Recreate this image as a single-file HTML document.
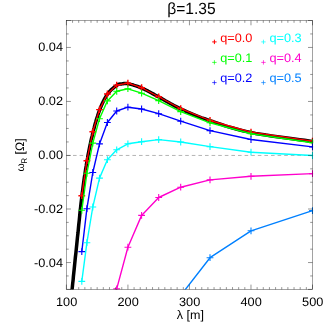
<!DOCTYPE html>
<html><head><meta charset="utf-8"><style>
html,body{margin:0;padding:0;background:#fff;}
svg{display:block;font-family:"Liberation Sans",sans-serif;font-size:12.3px;fill:#000;}
text{text-rendering:geometricPrecision;}
</style></head><body>
<svg width="332" height="332" viewBox="0 0 332 332">
<defs><clipPath id="c"><rect x="66.40" y="20.50" width="246.70" height="268.90"/></clipPath>
<filter id="f" x="0" y="0" width="100%" height="100%" filterUnits="userSpaceOnUse"><feOffset dx="0" dy="0"/></filter></defs>
<rect width="332" height="332" fill="#fff"/>
<line x1="66.40" x2="312.50" y1="155.44" y2="155.44" stroke="#999" stroke-width="0.75" stroke-dasharray="3.6,3.0" stroke-dashoffset="0"/>
<g clip-path="url(#c)">
<path d="M70.0,310.0 L70.1,309.1 L70.2,308.0 L70.3,306.9 L70.5,305.5 L70.6,304.1 L70.8,302.5 L70.9,300.7 L71.1,298.8 L71.3,296.7 L71.6,294.4 L71.8,292.0 L72.1,289.4 L72.4,286.5 L72.7,283.4 L73.1,280.1 L73.4,276.5 L73.8,272.8 L74.2,269.0 L74.6,265.0 L75.0,261.0 L75.4,257.0 L75.9,252.9 L76.3,248.9 L76.7,245.0 L77.1,241.0 L77.5,236.9 L78.0,232.8 L78.4,228.5 L78.8,224.2 L79.3,219.9 L79.7,215.7 L80.1,211.5 L80.6,207.4 L81.0,203.4 L81.5,199.6 L81.9,196.0 L82.3,192.6 L82.8,189.2 L83.2,186.0 L83.6,182.9 L84.0,179.9 L84.4,177.0 L84.9,174.2 L85.3,171.4 L85.7,168.7 L86.2,166.0 L86.6,163.3 L87.1,160.6 L87.6,158.0 L88.0,155.4 L88.5,152.8 L89.0,150.3 L89.5,147.8 L90.0,145.4 L90.5,143.1 L91.0,140.7 L91.5,138.5 L92.1,136.2 L92.6,134.0 L93.1,131.9 L93.6,129.8 L94.2,127.7 L94.7,125.7 L95.2,123.7 L95.8,121.8 L96.3,119.9 L96.9,118.1 L97.5,116.3 L98.0,114.6 L98.6,112.9 L99.2,111.2 L99.8,109.6 L100.4,108.0 L101.0,106.5 L101.6,105.1 L102.3,103.6 L102.9,102.3 L103.5,101.0 L104.2,99.7 L104.9,98.4 L105.5,97.3 L106.2,96.1 L106.9,95.0 L107.6,94.0 L108.3,93.0 L109.1,92.1 L109.9,91.2 L110.7,90.3 L111.5,89.5 L112.3,88.8 L113.2,88.1 L114.0,87.4 L114.7,86.8 L115.5,86.3 L116.2,85.8 L116.8,85.3 L117.4,84.9 L117.9,84.6 L118.4,84.4 L118.9,84.2 L119.3,84.1 L119.8,84.0 L120.2,84.0 L120.6,83.9 L121.0,83.9 L121.4,83.9 L121.8,83.9 L122.3,83.8 L122.7,83.7 L123.1,83.7 L123.5,83.6 L123.9,83.5 L124.3,83.4 L124.6,83.4 L125.0,83.4 L125.5,83.4 L126.0,83.4 L126.6,83.4 L127.2,83.5 L128.0,83.7 L128.9,83.9 L129.8,84.1 L130.8,84.4 L131.8,84.6 L133.0,84.9 L134.1,85.3 L135.3,85.7 L136.6,86.1 L137.9,86.5 L139.1,87.0 L140.4,87.5 L141.7,88.0 L143.0,88.6 L144.3,89.2 L145.6,89.9 L147.0,90.5 L148.3,91.3 L149.7,92.0 L151.1,92.8 L152.6,93.6 L154.1,94.4 L155.6,95.3 L157.1,96.1 L158.8,97.0 L160.4,97.9 L162.0,98.8 L163.7,99.8 L165.4,100.8 L167.2,101.8 L169.0,102.8 L170.8,103.8 L172.7,104.8 L174.6,105.9 L176.6,106.9 L178.6,107.9 L180.7,108.9 L182.8,109.9 L185.0,110.9 L187.2,111.9 L189.5,112.8 L191.8,113.8 L194.2,114.8 L196.6,115.8 L199.1,116.8 L201.7,117.8 L204.4,118.7 L207.1,119.7 L210.0,120.7 L212.9,121.7 L215.9,122.7 L218.9,123.7 L222.0,124.7 L225.2,125.8 L228.5,126.8 L231.9,127.8 L235.4,128.8 L239.0,129.8 L242.8,130.7 L246.8,131.6 L251.0,132.5 L255.5,133.4 L260.6,134.2 L266.0,135.1 L271.6,135.9 L277.4,136.8 L283.2,137.6 L289.0,138.3 L294.5,139.0 L299.7,139.7 L304.6,140.3 L308.9,140.9 L312.5,141.4 L315.6,141.8 L318.2,142.2 L320.4,142.5 L322.2,142.7 L323.8,142.9 L325.1,143.1 L326.2,143.2 L327.1,143.3 L327.9,143.4 L328.6,143.4 L329.3,143.5 L330.0,143.6" fill="none" stroke="#000" stroke-width="3.5" stroke-linejoin="round"/>
<polyline points="81.8,195.7 86.9,160.7 92.8,131.8 99.5,109.6 107.4,94.0 116.7,85.1 127.9,83.2 141.6,87.7 158.7,96.8 180.7,108.7 210.0,120.5 251.0,132.2 312.5,141.1" fill="none" stroke="#ff0000" stroke-width="1.3" stroke-linejoin="round"/>
<path d="M78.4,195.7h6.8M81.8,192.3v6.8M83.5,160.7h6.8M86.9,157.2v6.8M89.4,131.8h6.8M92.8,128.4v6.8M96.1,109.6h6.8M99.5,106.2v6.8M104.0,94.0h6.8M107.4,90.6v6.8M113.3,85.1h6.8M116.7,81.7v6.8M124.5,83.2h6.8M127.9,79.8v6.8M138.2,87.7h6.8M141.6,84.2v6.8M155.3,96.8h6.8M158.7,93.4v6.8M177.3,108.7h6.8M180.7,105.3v6.8M206.6,120.5h6.8M210.0,117.1v6.8M247.6,132.2h6.8M251.0,128.8v6.8M309.1,141.1h6.8M312.5,137.7v6.8" fill="none" stroke="#ff0000" stroke-width="1.4"/>
<polyline points="81.8,210.3 86.9,173.3 92.8,143.1 99.5,118.7 107.4,100.9 116.7,91.3 127.9,88.8 141.6,93.2 158.7,100.6 180.7,111.6 210.0,122.8 251.0,133.7 312.5,142.7" fill="none" stroke="#00ff00" stroke-width="1.4" stroke-linejoin="round"/>
<path d="M78.4,210.3h6.8M81.8,206.9v6.8M83.5,173.3h6.8M86.9,169.9v6.8M89.4,143.1h6.8M92.8,139.7v6.8M96.1,118.7h6.8M99.5,115.3v6.8M104.0,100.9h6.8M107.4,97.5v6.8M113.3,91.3h6.8M116.7,87.9v6.8M124.5,88.8h6.8M127.9,85.3v6.8M138.2,93.2h6.8M141.6,89.8v6.8M155.3,100.6h6.8M158.7,97.2v6.8M177.3,111.6h6.8M180.7,108.2v6.8M206.6,122.8h6.8M210.0,119.4v6.8M247.6,133.7h6.8M251.0,130.2v6.8M309.1,142.7h6.8M312.5,139.3v6.8" fill="none" stroke="#00ff00" stroke-width="1.1"/>
<polyline points="81.8,251.6 86.9,208.7 92.8,172.5 99.5,143.9 107.4,122.5 116.7,111.0 127.9,107.2 141.6,109.0 158.7,113.7 180.7,121.2 210.0,130.6 251.0,139.5 312.5,146.9" fill="none" stroke="#0000ff" stroke-width="1.4" stroke-linejoin="round"/>
<path d="M78.4,251.6h6.8M81.8,248.2v6.8M83.5,208.7h6.8M86.9,205.3v6.8M89.4,172.5h6.8M92.8,169.1v6.8M96.1,143.9h6.8M99.5,140.5v6.8M104.0,122.5h6.8M107.4,119.1v6.8M113.3,111.0h6.8M116.7,107.6v6.8M124.5,107.2h6.8M127.9,103.8v6.8M138.2,109.0h6.8M141.6,105.6v6.8M155.3,113.7h6.8M158.7,110.3v6.8M177.3,121.2h6.8M180.7,117.8v6.8M206.6,130.6h6.8M210.0,127.2v6.8M247.6,139.5h6.8M251.0,136.1v6.8M309.1,146.9h6.8M312.5,143.5v6.8" fill="none" stroke="#0000ff" stroke-width="1.1"/>
<polyline points="81.8,281.4 86.9,242.7 92.8,207.0 99.5,178.1 107.4,159.7 116.7,149.8 127.9,143.8 141.6,141.7 158.7,139.6 180.7,142.0 210.0,146.6 251.0,152.2 312.5,155.5" fill="none" stroke="#00ffff" stroke-width="1.4" stroke-linejoin="round"/>
<path d="M78.4,281.4h6.8M81.8,278.0v6.8M83.5,242.7h6.8M86.9,239.3v6.8M89.4,207.0h6.8M92.8,203.6v6.8M96.1,178.1h6.8M99.5,174.7v6.8M104.0,159.7h6.8M107.4,156.3v6.8M113.3,149.8h6.8M116.7,146.4v6.8M124.5,143.8h6.8M127.9,140.4v6.8M138.2,141.7h6.8M141.6,138.3v6.8M155.3,139.6h6.8M158.7,136.2v6.8M177.3,142.0h6.8M180.7,138.6v6.8M206.6,146.6h6.8M210.0,143.2v6.8M247.6,152.2h6.8M251.0,148.8v6.8M309.1,155.5h6.8M312.5,152.1v6.8" fill="none" stroke="#00ffff" stroke-width="1.1"/>
<polyline points="107.4,345.0 116.7,288.9 127.9,247.2 141.6,215.4 158.7,197.5 180.7,187.2 210.0,179.9 251.0,176.3 312.5,173.6" fill="none" stroke="#ff00cc" stroke-width="1.4" stroke-linejoin="round"/>
<path d="M113.3,288.9h6.8M116.7,285.5v6.8M124.5,247.2h6.8M127.9,243.8v6.8M138.2,215.4h6.8M141.6,212.0v6.8M155.3,197.5h6.8M158.7,194.1v6.8M177.3,187.2h6.8M180.7,183.8v6.8M206.6,179.9h6.8M210.0,176.5v6.8M247.6,176.3h6.8M251.0,172.9v6.8M309.1,173.6h6.8M312.5,170.2v6.8" fill="none" stroke="#ff00cc" stroke-width="1.1"/>
<polyline points="180.7,295.5 210.0,257.7 251.0,230.8 312.5,210.6" fill="none" stroke="#0080ff" stroke-width="1.4" stroke-linejoin="round"/>
<path d="M206.6,257.7h6.8M210.0,254.3v6.8M247.6,230.8h6.8M251.0,227.4v6.8M309.1,210.6h6.8M312.5,207.2v6.8" fill="none" stroke="#0080ff" stroke-width="1.1"/>
</g>
<rect x="66.40" y="20.50" width="246.10" height="268.90" fill="none" stroke="#000" stroke-width="0.36"/>
<path d="M66.40,20.50v4.8M66.40,289.40v-4.8M72.55,20.50v2.3M72.55,289.40v-2.3M78.71,20.50v2.3M78.71,289.40v-2.3M84.86,20.50v2.3M84.86,289.40v-2.3M91.01,20.50v2.3M91.01,289.40v-2.3M97.16,20.50v2.3M97.16,289.40v-2.3M103.31,20.50v2.3M103.31,289.40v-2.3M109.47,20.50v2.3M109.47,289.40v-2.3M115.62,20.50v2.3M115.62,289.40v-2.3M121.77,20.50v2.3M121.77,289.40v-2.3M127.93,20.50v4.8M127.93,289.40v-4.8M134.08,20.50v2.3M134.08,289.40v-2.3M140.23,20.50v2.3M140.23,289.40v-2.3M146.38,20.50v2.3M146.38,289.40v-2.3M152.54,20.50v2.3M152.54,289.40v-2.3M158.69,20.50v2.3M158.69,289.40v-2.3M164.84,20.50v2.3M164.84,289.40v-2.3M170.99,20.50v2.3M170.99,289.40v-2.3M177.15,20.50v2.3M177.15,289.40v-2.3M183.30,20.50v2.3M183.30,289.40v-2.3M189.45,20.50v4.8M189.45,289.40v-4.8M195.60,20.50v2.3M195.60,289.40v-2.3M201.75,20.50v2.3M201.75,289.40v-2.3M207.91,20.50v2.3M207.91,289.40v-2.3M214.06,20.50v2.3M214.06,289.40v-2.3M220.21,20.50v2.3M220.21,289.40v-2.3M226.37,20.50v2.3M226.37,289.40v-2.3M232.52,20.50v2.3M232.52,289.40v-2.3M238.67,20.50v2.3M238.67,289.40v-2.3M244.82,20.50v2.3M244.82,289.40v-2.3M250.97,20.50v4.8M250.97,289.40v-4.8M257.13,20.50v2.3M257.13,289.40v-2.3M263.28,20.50v2.3M263.28,289.40v-2.3M269.43,20.50v2.3M269.43,289.40v-2.3M275.59,20.50v2.3M275.59,289.40v-2.3M281.74,20.50v2.3M281.74,289.40v-2.3M287.89,20.50v2.3M287.89,289.40v-2.3M294.04,20.50v2.3M294.04,289.40v-2.3M300.19,20.50v2.3M300.19,289.40v-2.3M306.35,20.50v2.3M306.35,289.40v-2.3M312.50,20.50v4.8M312.50,289.40v-4.8M66.40,20.50h4.5M312.50,20.50h-4.5M66.40,33.94h2.3M312.50,33.94h-2.3M66.40,47.44h4.5M312.50,47.44h-4.5M66.40,60.94h2.3M312.50,60.94h-2.3M66.40,74.44h2.3M312.50,74.44h-2.3M66.40,87.94h2.3M312.50,87.94h-2.3M66.40,101.44h4.5M312.50,101.44h-4.5M66.40,114.94h2.3M312.50,114.94h-2.3M66.40,128.44h2.3M312.50,128.44h-2.3M66.40,141.94h2.3M312.50,141.94h-2.3M66.40,155.44h4.5M312.50,155.44h-4.5M66.40,168.83h2.3M312.50,168.83h-2.3M66.40,182.22h2.3M312.50,182.22h-2.3M66.40,195.61h2.3M312.50,195.61h-2.3M66.40,209.00h4.5M312.50,209.00h-4.5M66.40,222.39h2.3M312.50,222.39h-2.3M66.40,235.78h2.3M312.50,235.78h-2.3M66.40,249.17h2.3M312.50,249.17h-2.3M66.40,262.56h4.5M312.50,262.56h-4.5M66.40,275.95h2.3M312.50,275.95h-2.3M66.40,289.40h4.5M312.50,289.40h-4.5" stroke="#000" stroke-width="0.42" fill="none"/>
<path d="M212.20,41.90h4.4M214.40,39.70v4.4" stroke="#ff0000" stroke-width="1.00" fill="none"/><path d="M212.20,62.40h4.4M214.40,60.20v4.4" stroke="#00ff00" stroke-width="0.70" fill="none"/><path d="M212.20,82.60h4.4M214.40,80.40v4.4" stroke="#0000ff" stroke-width="0.70" fill="none"/><path d="M261.25,41.90h4.4M263.45,39.70v4.4" stroke="#00ffff" stroke-width="0.70" fill="none"/><path d="M261.25,62.40h4.4M263.45,60.20v4.4" stroke="#ff00cc" stroke-width="0.70" fill="none"/><path d="M261.25,82.60h4.4M263.45,80.40v4.4" stroke="#0080ff" stroke-width="0.70" fill="none"/>
<g filter="url(#f)">
<text transform="translate(66.60,305.50) scale(1.035,1)" text-anchor="middle" font-size="12.3">100</text><text transform="translate(128.12,305.50) scale(1.035,1)" text-anchor="middle" font-size="12.3">200</text><text transform="translate(189.65,305.50) scale(1.035,1)" text-anchor="middle" font-size="12.3">300</text><text transform="translate(251.17,305.50) scale(1.035,1)" text-anchor="middle" font-size="12.3">400</text><text transform="translate(312.70,305.50) scale(1.035,1)" text-anchor="middle" font-size="12.3">500</text><text transform="translate(63.00,51.44) scale(1.035,1)" text-anchor="end" font-size="12.3">0.04</text><text transform="translate(63.00,105.44) scale(1.035,1)" text-anchor="end" font-size="12.3">0.02</text><text transform="translate(63.00,159.44) scale(1.035,1)" text-anchor="end" font-size="12.3">0.00</text><text transform="translate(63.00,213.00) scale(1.035,1)" text-anchor="end" font-size="12.3">-0.02</text><text transform="translate(63.00,266.56) scale(1.035,1)" text-anchor="end" font-size="12.3">-0.04</text>
<text transform="translate(220.20,42.00) scale(1.035,1)" text-anchor="start" font-size="12.3" fill="#ff0000">q=0.0</text><text transform="translate(220.20,62.00) scale(1.035,1)" text-anchor="start" font-size="12.3" fill="#00ff00">q=0.1</text><text transform="translate(220.20,82.10) scale(1.035,1)" text-anchor="start" font-size="12.3" fill="#0000ff">q=0.2</text><text transform="translate(269.40,42.00) scale(1.035,1)" text-anchor="start" font-size="12.3" fill="#00ffff">q=0.3</text><text transform="translate(269.40,62.00) scale(1.035,1)" text-anchor="start" font-size="12.3" fill="#ff00cc">q=0.4</text><text transform="translate(269.40,82.10) scale(1.035,1)" text-anchor="start" font-size="12.3" fill="#0080ff">q=0.5</text>
<text transform="translate(191.45,13.8) scale(1,1.04)" text-anchor="middle" font-size="15.6">β=1.35</text>
<text transform="translate(190.30,318.70) scale(1.020,1)" text-anchor="middle" font-size="12.3">λ [m]</text>
<text transform="translate(24.2,171.4) rotate(-90)" font-size="10.6">ω</text>
<text transform="translate(27.1,163.7) rotate(-90)" font-size="8.2">R</text>
<text transform="translate(23.7,154.4) rotate(-90)">[Ω]</text>
</g>
</svg>
</body></html>
